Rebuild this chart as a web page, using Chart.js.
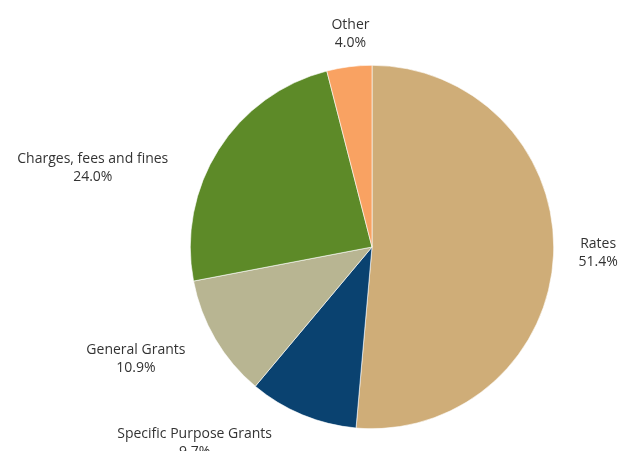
<!DOCTYPE html>
<html>
<head>
<meta charset="utf-8">
<script src="https://cdn.jsdelivr.net/npm/chart.js@4/dist/chart.umd.min.js"></script>
<style>
  html, body { margin: 0; padding: 0; background: #fff; }
  #wrap { width: 619px; height: 451px; }
</style>
</head>
<body>
<div id="wrap"><canvas id="c" width="619" height="451"></canvas></div>
<script>
// Revenue sources, share of total (%)
const categories = ['Rates', 'Specific Purpose Grants', 'General Grants', 'Charges, fees and fines', 'Other'];
const shares = [51.4, 9.7, 10.9, 24.0, 4.0];
const sliceColors = ['#CFAD78', '#0A4270', '#B8B592', '#5D8A28', '#F9A262'];

// Per-label fine nudges [dx, dy] applied after the radial placement
const labelNudges = [[-5, -3], [-19, 0], [-4, 5], [-25, 34], [5, -3]];

const outsideLabels = {
  id: 'outsideLabels',
  afterDatasetsDraw(chart, args, opts) {
    const ctx = chart.ctx;
    const meta = chart.getDatasetMeta(0);
    const data = chart.data.datasets[0].data;
    ctx.save();
    ctx.font = opts.font;
    ctx.fillStyle = opts.color;
    ctx.textBaseline = 'middle';
    meta.data.forEach((arc, i) => {
      const p = arc.getProps(['x', 'y', 'startAngle', 'endAngle', 'outerRadius'], true);
      const mid = (p.startAngle + p.endAngle) / 2;
      const R = p.outerRadius + opts.gap;
      const c = Math.cos(mid), s = Math.sin(mid);
      const n = labelNudges[i] || [0, 0];
      const ax = p.x + c * R + n[0];
      const ay = p.y + s * R + n[1];
      const lines = [chart.data.labels[i], data[i].toFixed(1) + '%'];
      const widths = lines.map(t => ctx.measureText(t).width);
      const blockW = Math.max(...widths);
      let left;
      if (c > 0.3) left = ax;
      else if (c < -0.3) left = ax - blockW;
      else left = ax - blockW / 2;
      const cx = left + blockW / 2;
      ctx.textAlign = 'center';
      const lh = opts.lineHeight;
      lines.forEach((t, k) => {
        ctx.fillText(t, cx, ay + (k - (lines.length - 1) / 2) * lh);
      });
    });
    ctx.restore();
  }
};

new Chart(document.getElementById('c'), {
  type: 'pie',
  data: {
    labels: categories,
    datasets: [{
      data: shares,
      backgroundColor: sliceColors,
      borderColor: '#ffffff',
      borderWidth: 0.6
    }]
  },
  options: {
    responsive: false,
    animation: false,
    layout: { padding: { left: 190, right: 65, top: 65, bottom: 22 } },
    plugins: {
      legend: { display: false },
      tooltip: { enabled: false },
      outsideLabels: {
        font: '14px "Open Sans", sans-serif',
        color: '#333333',
        gap: 30,
        lineHeight: 18
      }
    }
  },
  plugins: [outsideLabels]
});
</script>
</body>
</html>
